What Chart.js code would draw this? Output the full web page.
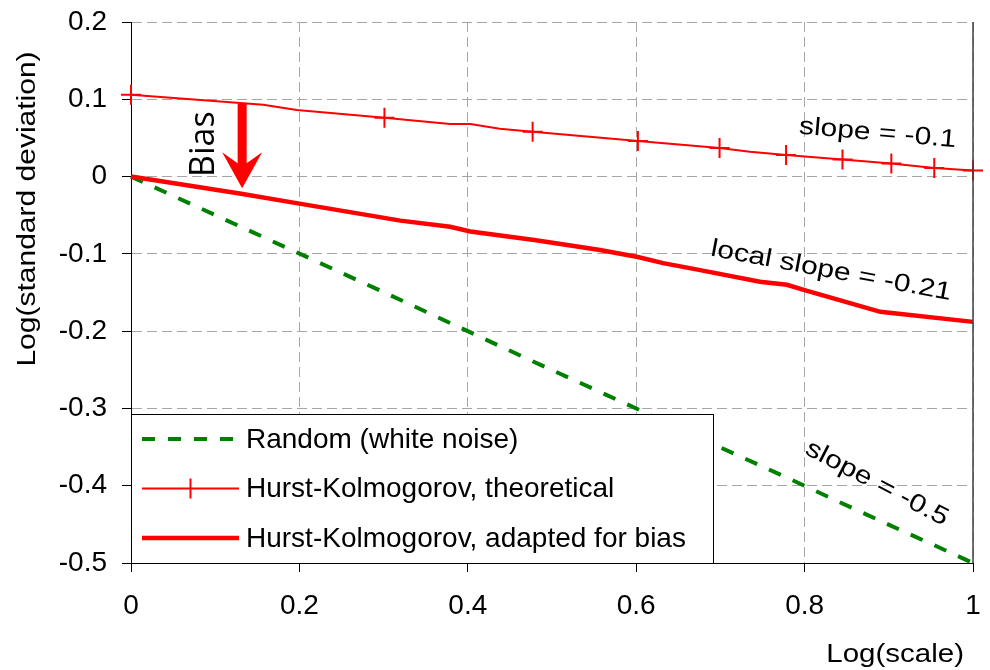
<!DOCTYPE html>
<html>
<head>
<meta charset="utf-8">
<title>Log(standard deviation) vs Log(scale)</title>
<script src="https://cdn.jsdelivr.net/npm/chart.js@4.4.1/dist/chart.umd.min.js"></script>
<style>
  html, body { margin: 0; padding: 0; background: #fff; }
</style>
</head>
<body>
<canvas id="chartHK" width="990" height="670"></canvas>
<script>
// values
const randomX = [0, 0.301, 0.477, 0.602, 0.699, 0.778, 0.845, 0.903, 0.954, 1];
const randomY = [0, -0.15, -0.239, -0.301, -0.35, -0.389, -0.423, -0.452, -0.477, -0.5];

const theoX = [0, 0.157, 0.197, 0.301, 0.379, 0.403, 0.438, 0.477, 0.602, 0.699, 0.735, 0.778, 0.845, 0.903, 0.954, 1];
const theoY = [0.106, 0.093, 0.086, 0.076, 0.068, 0.068, 0.062, 0.058, 0.046, 0.037, 0.032, 0.028, 0.022, 0.017, 0.011, 0.008];
// which points of the theoretical curve carry a "+" marker
const theoMarked = [true, false, false, true, false, false, false, true, true, true, false, true, true, true, true, true];

const adaptX = [0, 0.129, 0.2, 0.32, 0.379, 0.403, 0.479, 0.557, 0.602, 0.632, 0.676, 0.747, 0.779, 0.8, 0.89, 1];
const adaptY = [0, -0.022, -0.035, -0.057, -0.065, -0.071, -0.082, -0.095, -0.104, -0.112, -0.121, -0.136, -0.14, -0.147, -0.175, -0.188];

const seriesNames = ['Random (white noise)', 'Hurst-Kolmogorov, theoretical', 'Hurst-Kolmogorov, adapted for bias'];
const xTicks = [0, 0.2, 0.4, 0.6, 0.8, 1];
const yTicks = [-0.5, -0.4, -0.3, -0.2, -0.1, 0, 0.1, 0.2];
const xTitle = 'Log(scale)';
const yTitle = 'Log(standard deviation)';

// text notes on the plot (data units)
const notes = [
    { text: 'slope = -0.1', x: 0.886, y: 0.047, angle: 5 },
    { text: 'local slope = -0.21', x: 0.83, y: -0.131, angle: 10.5 },
    { text: 'slope = -0.5', x: 0.882, y: -0.405, angle: 27.5 }
];
const biasLabel = { text: 'Bias', x: 0.098, y: 0.042 };
const biasArrow = { x: 0.132, top: 0.094, tip: -0.015 };

const toPoints = (xs, ys) => xs.map((x, i) => ({ x: x, y: ys[i] }));
const fmt = v => String(+Number(v).toFixed(1));

Chart.defaults.font.family = '"Liberation Sans", Arial, sans-serif';
Chart.defaults.color = '#000';

function drawText(ctx, text, x, y, angle, font, stretch, align) {
    ctx.save();
    ctx.translate(x, y);
    ctx.rotate(angle * Math.PI / 180);
    ctx.scale(stretch, 1);
    ctx.font = font;
    ctx.fillStyle = '#000';
    ctx.textAlign = align || 'center';
    ctx.textBaseline = 'alphabetic';
    ctx.fillText(text, 0, 0);
    ctx.restore();
}

const extras = {
    id: 'extras',
    afterDatasetsDraw(chart) {
        const ctx = chart.ctx;
        const a = chart.chartArea;
        const sx = chart.scales.x, sy = chart.scales.y;
        ctx.save();

        // right frame
        ctx.strokeStyle = '#404040';
        ctx.lineWidth = 1.5;
        ctx.beginPath();
        ctx.moveTo(a.right, a.top);
        ctx.lineTo(a.right, a.bottom);
        ctx.stroke();

        // bias arrow
        const ax = sx.getPixelForValue(biasArrow.x);
        const atop = sy.getPixelForValue(biasArrow.top);
        const atip = sy.getPixelForValue(biasArrow.tip);
        const sw = 4.5, hw = 20, hl = 36, notch = 11;
        ctx.fillStyle = '#ff0000';
        ctx.beginPath();
        ctx.moveTo(ax - sw, atop);
        ctx.lineTo(ax - sw, atip - hl + notch);
        ctx.lineTo(ax - hw, atip - hl);
        ctx.lineTo(ax, atip);
        ctx.lineTo(ax + hw, atip - hl);
        ctx.lineTo(ax + sw, atip - hl + notch);
        ctx.lineTo(ax + sw, atop);
        ctx.closePath();
        ctx.fill();

        drawText(ctx, biasLabel.text, sx.getPixelForValue(biasLabel.x), sy.getPixelForValue(biasLabel.y),
            -90, '34px "Open Sans", sans-serif', 1);

        notes.forEach(n => {
            drawText(ctx, n.text, sx.getPixelForValue(n.x), sy.getPixelForValue(n.y),
                n.angle, '25px "Liberation Sans", Arial, sans-serif', 1.2);
        });

        // legend box
        const lg = { left: a.left, right: 714, top: a.bottom - 149, bottom: a.bottom };
        ctx.fillStyle = '#fff';
        ctx.fillRect(lg.left, lg.top, lg.right - lg.left, lg.bottom - lg.top);
        ctx.strokeStyle = '#000';
        ctx.lineWidth = 1;
        ctx.setLineDash([]);
        ctx.strokeRect(lg.left + 0.5, lg.top + 0.5, lg.right - lg.left - 1, lg.bottom - lg.top);

        const order = [2, 1, 0];
        order.forEach((di, row) => {
            const ds = chart.data.datasets[di];
            const cy = lg.top + 25 + row * 49.5;
            const x1 = lg.left + 11, x2 = lg.left + 108;
            ctx.strokeStyle = ds.borderColor;
            ctx.lineWidth = ds.borderWidth;
            ctx.setLineDash(ds.borderDash || []);
            ctx.beginPath();
            ctx.moveTo(x1, cy);
            ctx.lineTo(x2, cy);
            ctx.stroke();
            ctx.setLineDash([]);
            if (ds.pointStyle === 'cross') {
                const cx = (x1 + x2) / 2;
                ctx.lineWidth = 2;
                ctx.beginPath();
                ctx.moveTo(cx, cy - 10);
                ctx.lineTo(cx, cy + 10);
                ctx.stroke();
            }
            ctx.fillStyle = '#000';
            ctx.font = '28px "Liberation Sans", Arial, sans-serif';
            ctx.textAlign = 'left';
            ctx.textBaseline = 'middle';
            ctx.fillText(ds.label, lg.left + 115, cy + 1);
        });
        ctx.restore();
    },
    afterDraw(chart) {
        const ctx = chart.ctx;
        const a = chart.chartArea;
        drawText(ctx, yTitle, a.left - 96, a.top + 187, -90, '25px "Liberation Sans", Arial, sans-serif', 1.2);
        drawText(ctx, xTitle, a.right - 9, a.bottom + 99, 0, '25px "Liberation Sans", Arial, sans-serif', 1.18, 'right');
    }
};

new Chart(document.getElementById('chartHK'), {
    type: 'scatter',
    data: {
        datasets: [{
            label: seriesNames[2],
            data: toPoints(adaptX, adaptY),
            showLine: true,
            borderColor: '#ff0000',
            borderWidth: 4.5,
            pointRadius: 0,
            tension: 0,
            clip: false,
            order: 0
        }, {
            label: seriesNames[1],
            data: toPoints(theoX, theoY),
            showLine: true,
            borderColor: '#ff0000',
            borderWidth: 2,
            pointStyle: 'cross',
            pointRadius: ctx => theoMarked[ctx.dataIndex] ? 10 : 0,
            pointBorderColor: '#ff0000',
            pointBorderWidth: 2,
            tension: 0,
            clip: false,
            order: 1
        }, {
            label: seriesNames[0],
            data: toPoints(randomX, randomY),
            showLine: true,
            borderColor: '#008000',
            borderWidth: 4,
            borderDash: [13, 13],
            pointRadius: 0,
            tension: 0,
            clip: false,
            order: 2
        }]
    },
    options: {
        responsive: false,
        animation: false,
        events: [],
        layout: { padding: { left: 0, right: 17, top: 22, bottom: 0 } },
        plugins: {
            legend: { display: false },
            tooltip: { enabled: false }
        },
        scales: {
            x: {
                type: 'linear',
                min: 0,
                max: 1,
                afterBuildTicks: s => { s.ticks = xTicks.map(v => ({ value: v })); },
                afterFit: s => { s.height = 107; s.paddingLeft = 0; s.paddingRight = 0; },
                ticks: {
                    font: { size: 28 },
                    color: '#000',
                    padding: 17,
                    maxRotation: 0,
                    callback: v => fmt(v)
                },
                grid: {
                    color: '#a6a6a6',
                    lineWidth: 1,
                    tickColor: '#000',
                    tickLength: 9
                },
                border: { color: '#000', width: 1, dash: [10, 5] }
            },
            y: {
                type: 'linear',
                min: -0.5,
                max: 0.2,
                afterBuildTicks: s => { s.ticks = yTicks.map(v => ({ value: v })); },
                afterFit: s => { s.width = 131; s.paddingTop = 0; s.paddingBottom = 0; },
                ticks: {
                    font: { size: 28 },
                    color: '#000',
                    padding: 15,
                    callback: v => fmt(v)
                },
                grid: {
                    color: '#a6a6a6',
                    lineWidth: 1,
                    tickColor: '#000',
                    tickLength: 9
                },
                border: { color: '#000', width: 1, dash: [10, 5] }
            }
        }
    },
    plugins: [extras]
});
</script>
</body>
</html>
